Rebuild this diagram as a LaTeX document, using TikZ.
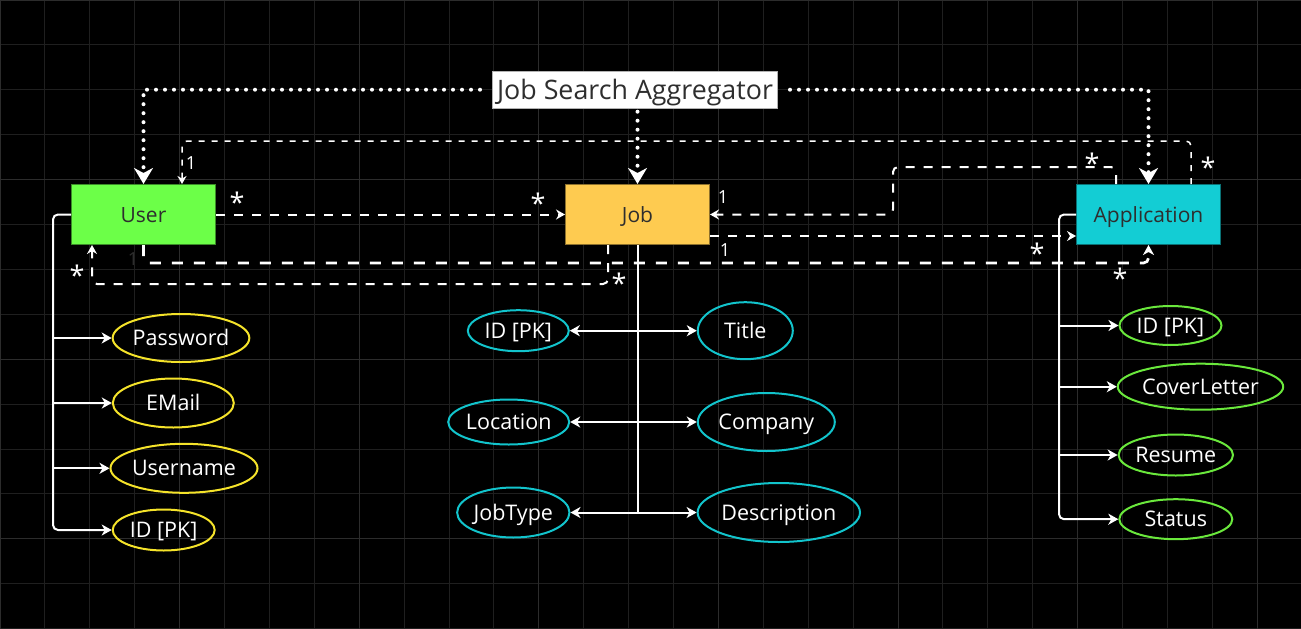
\documentclass[tikz,border=0pt]{standalone}
\usepackage{fontspec}
\setmainfont{Open Sans}
\usetikzlibrary{arrows.meta,shapes.geometric,calc}
\definecolor{usergreen}{HTML}{6CFF48}
\definecolor{jobyellow}{HTML}{FECB50}
\definecolor{appcyan}{HTML}{13CDD4}
\definecolor{attryellow}{HTML}{F5E32A}
\definecolor{attrcyan}{HTML}{12C4CC}
\definecolor{attrgreen}{HTML}{6AE83C}
\definecolor{boxtext}{HTML}{2E2E2E}
\definecolor{gridminor}{HTML}{1F1F1F}
\definecolor{gridmajor}{HTML}{2C2C2C}
\begin{document}
\begin{tikzpicture}[x=1pt,y=-1pt,
  entity/.style={draw, line width=1pt, minimum width=144pt, minimum height=60pt, inner sep=0pt,
    font=\fontsize{21}{25}\selectfont, text=boxtext, text height=15pt, text depth=0pt},
  attr/.style={ellipse, draw, line width=2pt, inner sep=0pt,
    font=\fontsize{21.5}{25}\selectfont, text=white, text height=15.3pt, text depth=0pt},
  yattr/.style={attr, draw=attryellow},
  cattr/.style={attr, draw=attrcyan},
  gattr/.style={attr, draw=attrgreen},
  tree/.style={draw=white, line width=2pt, rounded corners=5pt},
  treearr/.style={tree, -{Stealth[length=10pt,width=11pt,inset=3pt]}},
  dotline/.style={draw=white, line width=4pt, line cap=round, dash pattern=on 0pt off 9pt,
    -{Stealth[length=16pt,width=19pt,inset=5pt]}},
  dashT/.style={draw=white, line width=1.5pt, dash pattern=on 6pt off 7pt, rounded corners=5pt,
    -{Stealth[length=8pt,width=9pt,inset=2.5pt]}},
  dashM/.style={draw=white, line width=2pt, dash pattern=on 9pt off 9pt, rounded corners=5pt,
    -{Stealth[length=9pt,width=10pt,inset=3pt]}},
  dashK/.style={draw=white, line width=2.7pt, dash pattern=on 11pt off 11pt, rounded corners=5pt,
    -{Stealth[length=10pt,width=11pt,inset=3pt]}},
  mult/.style={text=white, font=\fontsize{18}{21}\selectfont, inner sep=0pt},
  star/.style={text=white, font=\fontsize{27}{31}\selectfont, inner sep=0pt, anchor=base, yshift=-15pt},
  gridline/.style={draw=gridminor, line width=1pt},
  majorline/.style={draw=gridmajor, line width=1pt}
]
\fill[black] (0,0) rectangle (1301,629);
\useasboundingbox (0,0) rectangle (1301,629);
% grid
\foreach \i in {0,...,28} \draw[gridline] ({\i*44.9},0) -- ({\i*44.9},629);
\foreach \i in {0,...,14} \draw[gridline] (0,{\i*44.9}) -- (1301,{\i*44.9});
\foreach \i in {0,4,...,28} \draw[majorline] ({\i*44.9},0) -- ({\i*44.9},629);
\foreach \i in {0,4,...,12} \draw[majorline] (0,{\i*44.9}) -- (1301,{\i*44.9});

% entities
\node[entity, fill=usergreen, draw=usergreen!55!black] (user) at (143.5,214.5) {User};
\node[entity, fill=jobyellow, draw=jobyellow!55!black] (job) at (637.5,214.5) {Job};
\node[entity, fill=appcyan, draw=appcyan!55!black] (app) at (1148.5,214.5) {Application};
\node[fill=white, draw=gray!60, line width=1pt, minimum width=285pt, minimum height=37pt, inner sep=0pt,
  font=\fontsize{26.8}{31}\selectfont, text=boxtext, text height=19pt, text depth=0pt] (title) at (635,89.7) {Job Search Aggregator};

% attributes
\node[yattr, minimum width=136pt, minimum height=48pt] (pw) at (181,338) {Password};
\node[yattr, minimum width=121pt, minimum height=49pt] (em) at (173.3,403) {EMail};
\node[yattr, minimum width=143pt, minimum height=49pt] (un) at (184,468.3) {Username};
\node[yattr, minimum width=102pt, minimum height=41pt] (idu) at (163.7,530) {ID [PK]};

\node[cattr, minimum width=101pt, minimum height=41pt] (jid) at (518.3,330.7) {ID [PK]};
\node[cattr, minimum width=95pt, minimum height=57pt] (ttl) at (745.3,330.7) {Title};
\node[cattr, minimum width=121pt, minimum height=45pt] (loc) at (508.7,422) {Location};
\node[cattr, minimum width=137pt, minimum height=58pt] (comp) at (766.3,422) {Company};
\node[cattr, minimum width=111pt, minimum height=50pt] (jtype) at (513.3,512.5) {JobType};
\node[cattr, minimum width=162pt, minimum height=59pt] (desc) at (778.8,512.5) {Description};

\node[gattr, minimum width=102pt, minimum height=39pt] (aid) at (1170.5,325.5) {ID [PK]};
\node[gattr, minimum width=162pt, minimum height=46pt] (cl) at (1200.5,386.7) {CoverLetter};
\node[gattr, minimum width=113pt, minimum height=41pt] (res) at (1175.8,455) {Resume};
\node[gattr, minimum width=113pt, minimum height=40pt] (st) at (1175.8,519.2) {Status};

% trunk coordinates
\coordinate (ut) at (53,400);
\coordinate (at) at (1059,400);

% user tree
\draw[treearr] (user.west) -| (ut |- idu.west) -- (idu.west);
\draw[treearr] (ut |- pw.west) -- (pw.west);
\draw[treearr] (ut |- em.west) -- (em.west);
\draw[treearr] (ut |- un.west) -- (un.west);

% job tree
\draw[tree] (job.south) -- (job.south |- jtype.east);
\draw[treearr] (job.south |- jid.east) -- (jid.east);
\draw[treearr] (job.south |- ttl.west) -- (ttl.west);
\draw[treearr] (job.south |- loc.east) -- (loc.east);
\draw[treearr] (job.south |- comp.west) -- (comp.west);
\draw[treearr] (job.south |- jtype.east) -- (jtype.east);
\draw[treearr] (job.south |- desc.west) -- (desc.west);

% application tree
\draw[treearr] (app.west) -| (at |- st.west) -- (st.west);
\draw[treearr] (at |- aid.west) -- (aid.west);
\draw[treearr] (at |- cl.west) -- (cl.west);
\draw[treearr] (at |- res.west) -- (res.west);

% dotted connectors from title
\draw[dotline, shorten <=12pt] (title.west) -| (user.north);
\draw[dotline, shorten <=3pt] (job.north |- title.south) -- (job.north);
\draw[dotline, shorten <=12pt] (title.east) -| (app.north);

% relationship connectors
\coordinate (c4a) at (1191,141);
\coordinate (c4b) at (182,141);
\draw[dashT] (app.north -| c4a) -- (c4a) -- (c4b) -- (user.north -| c4b);

\draw[dashM] (user.east) -- (job.west);

\coordinate (c6a) at (1116,167);
\coordinate (c6b) at (893,167);
\draw[dashM] (app.north -| c6a) -- (c6a) -- (c6b) -- (c6b |- job.east) -- (job.east);

\coordinate (c7) at (900,236);
\draw[dashM] (job.east |- c7) -- (app.west |- c7);

\coordinate (c8) at (600,263);
\draw[dashK] (user.south) -- (user.south |- c8) -- (app.south |- c8) -- (app.south);

\coordinate (c9a) at (608,284);
\coordinate (c9b) at (92,284);
\draw[dashM] (job.south -| c9a) -- (c9a) -- (c9b) -- (user.south -| c9b);

% multiplicities
\node[mult] (m1) at (191,163) {1};
\node[mult] (m2) at (723,197) {1};
\node[mult] (m3) at (725,250) {1};
\node[mult, text=gray!35!black] (m4) at (133,259) {1};
\node[star] (s1) at (1208,162) {*};
\node[star] (s2) at (237,197) {*};
\node[star] (s3) at (538,198) {*};
\node[star] (s4) at (1092,158) {*};
\node[star] (s5) at (1037,248) {*};
\node[star] (s6) at (1120,273) {*};
\node[star] (s7) at (619,278) {*};
\node[star] (s8) at (77,270) {*};
\end{tikzpicture}
\end{document}
